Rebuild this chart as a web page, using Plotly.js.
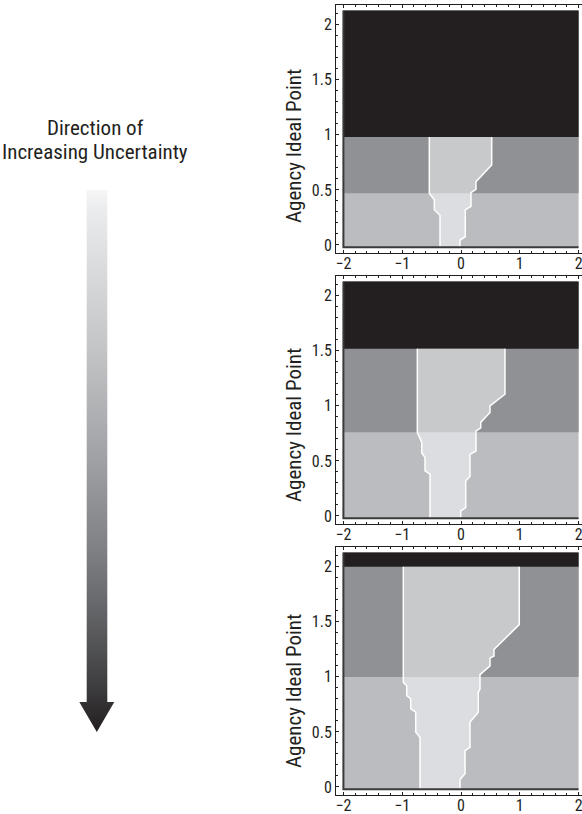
<!DOCTYPE html>
<html><head><meta charset="utf-8">
<script src="https://cdn.plot.ly/plotly-3.0.1.min.js"></script>
<style>html,body{margin:0;padding:0;background:#fff}#chart{width:582px;height:814px}</style>
</head><body><div id="chart"></div>
<script>
// ---------- data ----------
const blackEdge = [0.98, 1.52, 2.0];   // boundary black / dark gray (per panel)
const grayEdge  = [0.47, 0.76, 1.0];   // boundary dark gray / light gray (per panel)
const xLimits = [-2, 2];
const yLimits = [-0.02, 2.13];

// panel 1 (top)
const leftX1  = [-0.357, -0.357, -0.454, -0.454, -0.539, -0.539];
const leftY1  = [-0.02, 0.27, 0.32, 0.41, 0.47, 0.98];
const rightX1 = [-0.017, -0.017, 0.073, 0.073, 0.17, 0.17, 0.255, 0.255, 0.522, 0.522];
const rightY1 = [-0.02, 0.045, 0.075, 0.318, 0.35, 0.475, 0.506, 0.575, 0.727, 0.98];
// panel 2 (middle)
const leftX2  = [-0.527, -0.527, -0.612, -0.612, -0.668, -0.668, -0.743, -0.743];
const leftY2  = [-0.02, 0.38, 0.41, 0.53, 0.575, 0.67, 0.757, 1.52];
const rightX2 = [-0.005, -0.005, 0.08, 0.08, 0.153, 0.153, 0.255, 0.255, 0.335, 0.335, 0.493, 0.493, 0.748, 0.748];
const rightY2 = [-0.02, 0.045, 0.075, 0.32, 0.36, 0.56, 0.59, 0.77, 0.80, 0.85, 0.94, 1.0, 1.106, 1.52];
// panel 3 (bottom)
const leftX3  = [-0.697, -0.697, -0.770, -0.770, -0.855, -0.855, -0.923, -0.923, -0.981, -0.981];
const leftY3  = [-0.02, 0.45, 0.50, 0.68, 0.71, 0.80, 0.83, 0.92, 0.95, 2.0];
const rightX3 = [-0.017, -0.017, 0.068, 0.068, 0.153, 0.153, 0.294, 0.294, 0.323, 0.323, 0.493, 0.493, 0.561, 0.561, 0.991, 0.991];
const rightY3 = [-0.02, 0.067, 0.12, 0.33, 0.36, 0.59, 0.68, 0.86, 0.89, 1.02, 1.10, 1.17, 1.19, 1.25, 1.475, 2.0];

const lefts  = [[leftX1, leftY1], [leftX2, leftY2], [leftX3, leftY3]];
const rights = [[rightX1, rightY1], [rightX2, rightY2], [rightX3, rightY3]];

const yTitle = 'Agency Ideal Point';
const leftText1 = 'Direction of';
const leftText2 = 'Increasing Uncertainty';

// ---------- styles ----------
const C = {black:'#231f20', dark:'#909195', light:'#bbbcbf', centerUp:'#c8c9cb', centerLow:'#dcdde0', text:'#231f20'};
const FONT = "'Liberation Sans Narrow','Arial Narrow','Roboto Condensed','DejaVu Sans Condensed',sans-serif";

function xAt(xs, ys, y){
  for (let i=0;i<ys.length-1;i++){
    if (y>=ys[i] && y<=ys[i+1]){
      const t = (ys[i+1]===ys[i]) ? 0 : (y-ys[i])/(ys[i+1]-ys[i]);
      return xs[i] + t*(xs[i+1]-xs[i]);
    }
  }
  return y<ys[0] ? xs[0] : xs[xs.length-1];
}
function clip(xs, ys, a, b){
  const px=[xAt(xs,ys,a)], py=[a];
  for (let i=0;i<ys.length;i++) if (ys[i]>a && ys[i]<b){px.push(xs[i]); py.push(ys[i]);}
  px.push(xAt(xs,ys,b)); py.push(b);
  return {x:px, y:py};
}
function rect(x0,x1,y0,y1){ return {x:[x0,x1,x1,x0,x0], y:[y0,y0,y1,y1,y0]}; }

const traces = [];
const frameTops = [5, 276, 547];
const frameH = 248;
const W = 582, H = 814;
const layout = {
  width: W, height: H, margin:{l:0,r:0,t:0,b:0},
  paper_bgcolor:'#fff', plot_bgcolor:'rgba(0,0,0,0)', showlegend:false,
  font:{family:FONT, color:C.text, size:16},
  annotations:[], shapes:[]
};

for (let p=0;p<3;p++){
  const sfx = p===0 ? '' : String(p+1);
  const xa = 'x'+sfx, ya = 'y'+sfx;
  const k = blackEdge[p], g = grayEdge[p];
  const [x0,x1] = xLimits, [yb,yt] = yLimits;
  const add = (poly, color) => traces.push({type:'scatter', mode:'lines', x:poly.x, y:poly.y, fill:'toself',
      fillcolor:color, line:{width:0, color:color}, xaxis:xa, yaxis:ya, hoverinfo:'skip'});
  add(rect(x0,x1,yb,yt), C.light);
  add(rect(x0,x1,g,yt), C.dark);
  add(rect(x0,x1,k,yt), C.black);
  const [lx,ly] = lefts[p], [rx,ry] = rights[p];
  const full = {x: lx.concat(rx.slice().reverse()), y: ly.concat(ry.slice().reverse())};
  add(full, C.centerUp);
  const lc = clip(lx,ly,yb,g), rc = clip(rx,ry,yb,g);
  add({x: lc.x.concat(rc.x.slice().reverse()), y: lc.y.concat(rc.y.slice().reverse())}, C.centerLow);
  [[lx,ly],[rx,ry]].forEach(([xs,ys]) => traces.push({type:'scatter', mode:'lines', x:xs, y:ys,
      line:{color:'#ffffff', width:1.5}, xaxis:xa, yaxis:ya, hoverinfo:'skip'}));
  traces.push({type:'scatter', mode:'lines', x:[x0,x0,x1], y:[yt,yb,yb], line:{color:'#3a3a3b', width:2},
      xaxis:xa, yaxis:ya, hoverinfo:'skip'});

  const top = frameTops[p];
  layout['xaxis'+sfx] = {
    domain:[336/W, 1], range:[-2.126, 2.058], anchor:ya,
    showline:true, linecolor:C.black, linewidth:1, mirror:'allticks',
    ticks:'inside', ticklen:3, tickwidth:1, tickcolor:C.black, dtick:1, tick0:0,
    minor:{dtick:0.2, tick0:0, ticks:'inside', ticklen:2, tickcolor:C.black, showgrid:false},
    showgrid:false, zeroline:false, tickfont:{family:FONT, size:16, color:C.text},
    ticklabeloverflow:'allow', ticklabelstandoff:-4
  };
  layout['yaxis'+sfx] = {
    domain:[1-(top+frameH)/H, 1-top/H], range:[-0.073, 2.18], anchor:xa,
    showline:true, linecolor:C.black, linewidth:1, mirror:false,
    ticks:'inside', ticklen:3, tickwidth:1, tickcolor:C.black, dtick:0.5, tick0:0,
    minor:{dtick:0.1, tick0:0, ticks:'inside', ticklen:2, tickcolor:C.black, showgrid:false},
    showgrid:false, zeroline:false, tickfont:{family:FONT, size:16, color:C.text}
  };
}
const titleY = [146, 425, 691];
titleY.forEach(py => layout.annotations.push({text:yTitle, xref:'paper', yref:'paper', x:294/W, y:1-py/H,
  xanchor:'center', yanchor:'middle', textangle:-90, showarrow:false, font:{family:FONT, size:21, color:C.text}}));

// left decoration: arrow with gradient
layout.xaxis4 = {domain:[0, 200/W], range:[0,200], visible:false, fixedrange:true};
layout.yaxis4 = {domain:[0,1], range:[H,0], visible:false, fixedrange:true, anchor:'x4'};
traces.push({type:'scatter', mode:'lines', xaxis:'x4', yaxis:'y4', hoverinfo:'skip',
  x:[86.7,107.3,107.3,114.3,96.8,79.3,86.7,86.7], y:[190,190,702,702,732,702,702,190],
  fill:'toself', line:{width:0},
  fillgradient:{type:'vertical', start:190, stop:732,
    colorscale:[[0,'#f6f6f7'],[0.04,'#eaebec'],[0.29,'#c4c5c7'],[0.47,'#a5a6a9'],[0.66,'#808184'],[0.78,'#636467'],[0.9,'#424244'],[1,'#231f20']]}
});
layout.annotations.push({text:leftText1, xref:'x4', yref:'y4', x:95, y:128, xanchor:'center', yanchor:'middle',
  showarrow:false, font:{family:FONT, size:21, color:C.text}});
layout.annotations.push({text:leftText2, xref:'x4', yref:'y4', x:95, y:152, xanchor:'center', yanchor:'middle',
  showarrow:false, font:{family:FONT, size:21, color:C.text}});

Plotly.newPlot('chart', traces, layout, {staticPlot:true, displayModeBar:false});
</script></body></html>
